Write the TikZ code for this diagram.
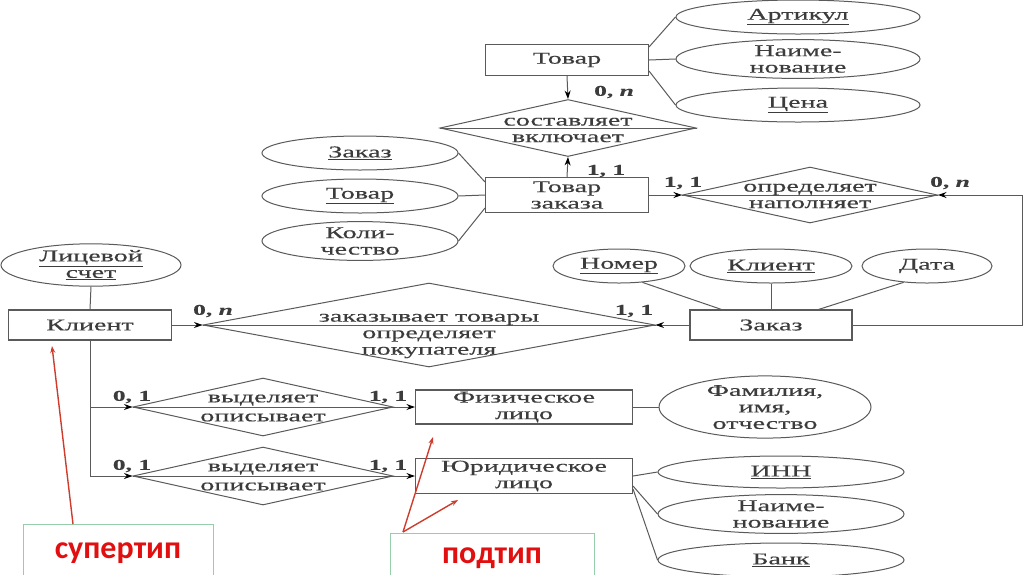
\documentclass[tikz,border=0pt]{standalone}
\usepackage{fontspec}
\setmainfont{Liberation Serif}
\newfontfamily\dgf[FakeStretch=1.7,FakeBold=0.35]{Liberation Serif}
\newfontfamily\redf{Carlito}
\usetikzlibrary{shapes.geometric,arrows.meta,calc}
\definecolor{lncol}{RGB}{90,90,90}
\definecolor{txcol}{RGB}{60,60,60}
\definecolor{redtx}{RGB}{225,15,15}
\definecolor{redarw}{RGB}{205,60,45}
\definecolor{grbox}{RGB}{150,205,170}
\begin{document}
\begin{tikzpicture}[x=1pt,y=-1pt,
  every node/.style={text=txcol, font=\dgf\fontsize{16.5}{16.5}\selectfont, align=center, inner sep=0pt},
  ent/.style={draw=lncol, line width=1.1pt, rectangle, minimum width=163, minimum height=31},
  attr/.style={draw=lncol, line width=1pt, ellipse},
  rel/.style={draw=lncol, line width=1pt, diamond},
  conn/.style={draw=lncol, line width=1pt},
  arr/.style={conn, -{Stealth[length=8.5pt,width=6pt,color=black]}},
  card/.style={font=\dgf\bfseries\fontsize{15}{15}\selectfont},
  redbox/.style={draw=grbox, line width=1pt, rectangle},
  redlbl/.style={text=redtx, font=\redf\bfseries\fontsize{32}{32}\selectfont},
  redarr/.style={draw=redarw, line width=1.4pt, -{Stealth[length=7pt,width=5pt]}}]
\useasboundingbox (0,0) rectangle (1024,574);
\fill[white] (0,0) rectangle (1024,574);

% ---------- Товар ----------
\node[ent] (tovar) at (567,60) {Товар};
\node[rel, minimum width=256, minimum height=57] (sost) at (568,128) {};
\draw[conn] (sost.west) -- (sost.east);
\node (sostt) at (568,130) {составляет\\включает};
\node[attr, minimum width=244, minimum height=34] (art) at (798,17) {\underline{Артикул}};
\node[attr, minimum width=244, minimum height=34] (nai1) at (798,59) {Наиме-\\нование};
\node[attr, minimum width=244, minimum height=34] (cena) at (798,105) {\underline{Цена}};
\draw[conn] ($(tovar.north east)+(0,3)$) -- (art.west);
\draw[conn] (tovar.east) -- (nai1.west);
\draw[conn] ($(tovar.south east)+(0,-5)$) -- (cena.west);
\draw[arr] (tovar.south) -- (sost.north);
\node[card] (c1) at (614,92) {0, \textit{n}};

% ---------- Товар заказа ----------
\node[ent, minimum height=35] (tz) at (567,195) {Товар\\заказа};
\draw[arr] (tz.north) -- (sost.south);
\node[card] (c2) at (606,171) {1, 1};
\node[attr, minimum width=196, minimum height=34] (ze) at (360,153) {\underline{Заказ}};
\node[attr, minimum width=196, minimum height=34] (tte) at (360,196) {\underline{Товар}};
\node[attr, minimum width=196, minimum height=36] (kol) at (360,241) {Коли-\\чество};
\draw[conn] (ze.east) -- ($(tz.north west)+(0,5)$);
\draw[conn] (tte.east) -- (tz.west);
\draw[conn] (kol.east) -- ($(tz.south west)+(0,-5)$);

% ---------- определяет / наполняет ----------
\node[rel, minimum width=255, minimum height=56] (dop) at (810,195) {};
\draw[conn] (dop.west) -- (dop.east);
\node (dopt) at (810,196) {определяет\\наполняет};
\draw[arr] (tz.east) -- (dop.west);
\node[card] (c3) at (683,183) {1, 1};
\node[card] (c4) at (950,183) {0, \textit{n}};

% ---------- Заказ ----------
\node[ent, minimum width=162, minimum height=30] (zk) at (771,325) {Заказ};
\node[attr, minimum width=132, minimum height=34] (nom) at (619,266) {\underline{Номер}};
\node[attr, minimum width=162, minimum height=34] (kle) at (771,266) {\underline{Клиент}};
\node[attr, minimum width=130, minimum height=34] (data) at (927,266) {Дата};
\draw[conn] (nom.-35) -- ($(zk.north west)+(32,0)$);
\draw[conn] (kle.south) -- (zk.north);
\draw[conn] (data.215) -- ($(zk.north east)+(-34,0)$);
\coordinate (rc1) at (1022,325);
\coordinate (rc2) at (1022,195);
\draw[arr] (zk.east) -- (rc1) -- (rc2) -- (dop.east);

% ---------- Клиент ----------
\node[ent, minimum height=30] (kl) at (90,325) {Клиент};
\node[attr, minimum width=180, minimum height=40] (ls) at (91,265) {\underline{Лицевой}\\\underline{счет}};
\draw[conn] (ls.south) -- (kl.north);
\node[rel, minimum width=452, minimum height=84] (bd) at (429,325) {};
\draw[conn] (bd.west) -- (bd.east);
\node (bdt) at (429,336) {заказывает товары\\определяет\\покупателя};
\draw[arr] (kl.east) -- (bd.west);
\draw[arr] (zk.west) -- (bd.east);
\node[card] (c5) at (213,311) {0, \textit{n}};
\node[card] (c6) at (634,311) {1, 1};

% ---------- подтипы ----------
\coordinate (v1) at (90,407);
\coordinate (v2) at (90,476);
\draw[conn] (kl.south) -- (v2);
\node[rel, minimum width=260, minimum height=58] (d1) at (263,407) {};
\node[rel, minimum width=260, minimum height=58] (d2) at (263,476) {};
\draw[conn] (d1.west) -- (d1.east);
\draw[conn] (d2.west) -- (d2.east);
\node[font=\dgf\fontsize{16.5}{19}\selectfont] (d1t) at (263,408) {выделяет\\описывает};
\node[font=\dgf\fontsize{16.5}{19}\selectfont] (d2t) at (263,477) {выделяет\\описывает};
\node[ent, minimum width=217, minimum height=34] (fiz) at (524,407) {Физическое\\лицо};
\node[ent, minimum width=217, minimum height=35] (jur) at (524,476) {Юридическое\\лицо};
\draw[arr] (v1) -- (d1.west);
\draw[arr] (v2) -- (d2.west);
\draw[arr] (d1.east) -- (fiz.west);
\draw[arr] (d2.east) -- (jur.west);
\node[card] (c7) at (132,397) {0, 1};
\node[card] (c8) at (388,397) {1, 1};
\node[card] (c9) at (132,466) {0, 1};
\node[card] (c10) at (388,466) {1, 1};
\node[attr, minimum width=212, minimum height=54] (fio) at (765,407) {Фамилия,\\имя,\\отчество};
\draw[conn] (fiz.east) -- (fio.west);
\node[attr, minimum width=246, minimum height=32] (inn) at (781,472) {\underline{ИНН}};
\node[attr, minimum width=246, minimum height=34] (nai2) at (781,514) {Наиме-\\нование};
\node[attr, minimum width=246, minimum height=34] (bank) at (781,560) {\underline{Банк}};
\draw[conn] (jur.east) -- (inn.west);
\draw[conn] ($(jur.south east)+(0,-8)$) -- (nai2.west);
\draw[conn] ($(jur.south east)+(0,-5)$) -- (bank.west);

% ---------- red annotations ----------
\node[redbox, minimum width=190, minimum height=60, anchor=north west] (sup) at (23,524) {};
\node[redlbl] (supt) at (118,553) {супертип};
\node[redbox, minimum width=204, minimum height=60, anchor=north west] (pod) at (390,533) {};
\node[redlbl] (podt) at (492,558) {подтип};
\coordinate (supS) at (73,524);
\coordinate (supE) at (52,346);
\coordinate (podS) at (403,532);
\coordinate (podE1) at (433,437);
\coordinate (podE2) at (458,500);
\draw[redarr] (supS) -- (supE);
\draw[redarr] (podS) -- (podE1);
\draw[redarr] (podS) -- (podE2);
\end{tikzpicture}
\end{document}
